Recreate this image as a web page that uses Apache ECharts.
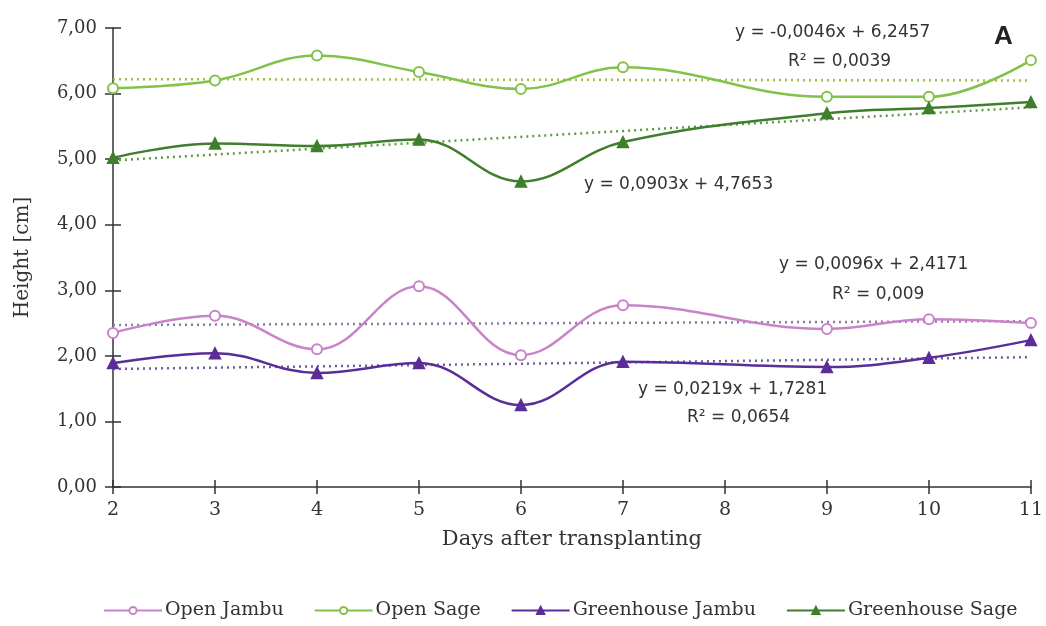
<!DOCTYPE html>
<html>
<head>
<meta charset="utf-8">
<script src="https://cdn.jsdelivr.net/npm/echarts@6/dist/echarts.min.js"></script>
<style>html,body{margin:0;padding:0;background:#fff}#c{width:1046px;height:626px}</style>
</head>
<body>
<div id="c"></div>
<script>
var days = [2, 3, 4, 5, 6, 7, 9, 10, 11];
var openJambu = [2.35, 2.61, 2.10, 3.06, 2.01, 2.77, 2.41, 2.56, 2.50];
var openSage = [6.08, 6.20, 6.58, 6.33, 6.07, 6.40, 5.95, 5.95, 6.51];
var ghJambu = [1.89, 2.04, 1.74, 1.89, 1.25, 1.91, 1.83, 1.97, 2.24];
var ghSage = [5.02, 5.24, 5.20, 5.30, 4.66, 5.26, 5.70, 5.78, 5.87];
// trend line end values (at day 2 and day 11)
var trendDays = [2, 11];
var trendOpenJambu = [2.47, 2.53];
var trendOpenSage = [6.22, 6.20];
var trendGhJambu = [1.80, 1.98];
var trendGhSage = [4.98, 5.79];
var yTicks = [0, 1, 2, 3, 4, 5, 6, 7];

function pairs(xs, ys) { return xs.map(function (x, i) { return [x, ys[i]]; }); }

var serif = 'DejaVu Serif';
var sans = 'DejaVu Sans';
var cOJ = '#c983c9', cOS = '#82c24a', cGJ = '#5a2d98', cGS = '#3f7e2c';

function mainSeries(name, ys, color, symbol, size) {
  return {
    name: name, type: 'line', data: pairs(days, ys), smooth: 0.4,
    symbol: symbol, symbolSize: size, showSymbol: true,
    lineStyle: { color: color, width: 2.5 },
    itemStyle: { color: color, borderColor: color, borderWidth: 1.5 },
    z: 3
  };
}
function trend(ys, color) {
  return {
    type: 'line', data: pairs(trendDays, ys), symbol: 'none', silent: true,
    xAxisIndex: 1, yAxisIndex: 1,
    lineStyle: { color: color, width: 2.5, type: [2, 4] }, z: 2
  };
}

var tickStyle = { color: '#333', width: 1.5 };
var chart = echarts.init(document.getElementById('c'));
chart.setOption({
  animation: false,
  backgroundColor: '#fff',
  grid: { left: 113, right: 14, top: 28, bottom: 139 },
  xAxis: [{
    type: 'value', min: 2, max: 11, interval: 1,
    name: 'Days after transplanting', nameLocation: 'middle', nameGap: 42,
    nameTextStyle: { fontFamily: serif, fontSize: 21, color: '#333' },
    axisLine: { lineStyle: { color: '#333', width: 1.5 } },
    axisTick: { show: true, length: 7, lineStyle: tickStyle },
    axisLabel: { fontFamily: serif, fontSize: 19, color: '#333', margin: 14 },
    splitLine: { show: false }
  }, {
    type: 'value', min: 2, max: 11, interval: 1, position: 'bottom', gridIndex: 0,
    axisLine: { show: true, onZero: false, lineStyle: { color: '#333', width: 1.5, opacity: 0 } },
    axisLabel: { show: false }, splitLine: { show: false },
    axisTick: { show: true, inside: true, length: 7, lineStyle: tickStyle }
  }],
  yAxis: [{
    type: 'value', min: yTicks[0], max: yTicks[yTicks.length - 1], interval: 1,
    name: 'Height [cm]', nameLocation: 'middle', nameGap: 80,
    nameTextStyle: { fontFamily: serif, fontSize: 20, color: '#333' },
    axisLine: { show: true, lineStyle: { color: '#333', width: 1.5 } },
    axisTick: { show: true, length: 8, lineStyle: tickStyle },
    axisLabel: { fontFamily: serif, fontSize: 18, color: '#333', margin: 16,
      formatter: function (v) { return v.toFixed(2).replace('.', ','); } },
    splitLine: { show: false }
  }, {
    type: 'value', min: yTicks[0], max: yTicks[yTicks.length - 1], interval: 1, position: 'left', offset: 0,
    axisLine: { show: true, onZero: false, lineStyle: { color: '#333', width: 1.5, opacity: 0 } },
    axisLabel: { show: false }, splitLine: { show: false },
    axisTick: { show: true, inside: true, length: 8, lineStyle: tickStyle }
  }],
  legend: {
    left: 98, top: 596, itemWidth: 58, itemHeight: 9, itemGap: 30,
    textStyle: { fontFamily: serif, fontSize: 19, color: '#333', padding: [0, 0, 0, -2] },
    data: ['Open Jambu', 'Open Sage', 'Greenhouse Jambu', 'Greenhouse Sage']
  },
  series: [
    trend(trendOpenJambu, '#8f7aa0'),
    trend(trendOpenSage, '#9fbf45'),
    trend(trendGhJambu, '#6e5f94'),
    trend(trendGhSage, '#5f9a40'),
    mainSeries('Open Jambu', openJambu, cOJ, 'emptyCircle', 10),
    mainSeries('Open Sage', openSage, cOS, 'emptyCircle', 10),
    mainSeries('Greenhouse Jambu', ghJambu, cGJ, 'triangle', 11),
    mainSeries('Greenhouse Sage', ghSage, cGS, 'triangle', 11)
  ],
  graphic: [
    { type: 'text', left: 735, top: 24, style: { text: 'y = -0,0046x + 6,2457', fontFamily: sans, fontSize: 17, fill: '#333' } },
    { type: 'text', left: 788, top: 53, style: { text: 'R² = 0,0039', fontFamily: sans, fontSize: 17, fill: '#333' } },
    { type: 'text', left: 994, top: 24, style: { text: 'A', fontFamily: 'Liberation Sans', fontWeight: 'bold', fontSize: 26, fill: '#222' } },
    { type: 'text', left: 584, top: 176, style: { text: 'y = 0,0903x + 4,7653', fontFamily: sans, fontSize: 17, fill: '#333' } },
    { type: 'text', left: 779, top: 256, style: { text: 'y = 0,0096x + 2,4171', fontFamily: sans, fontSize: 17, fill: '#333' } },
    { type: 'text', left: 832, top: 286, style: { text: 'R² = 0,009', fontFamily: sans, fontSize: 17, fill: '#333' } },
    { type: 'text', left: 638, top: 381, style: { text: 'y = 0,0219x + 1,7281', fontFamily: sans, fontSize: 17, fill: '#333' } },
    { type: 'text', left: 687, top: 409, style: { text: 'R² = 0,0654', fontFamily: sans, fontSize: 17, fill: '#333' } }
  ]
});
</script>
</body>
</html>
